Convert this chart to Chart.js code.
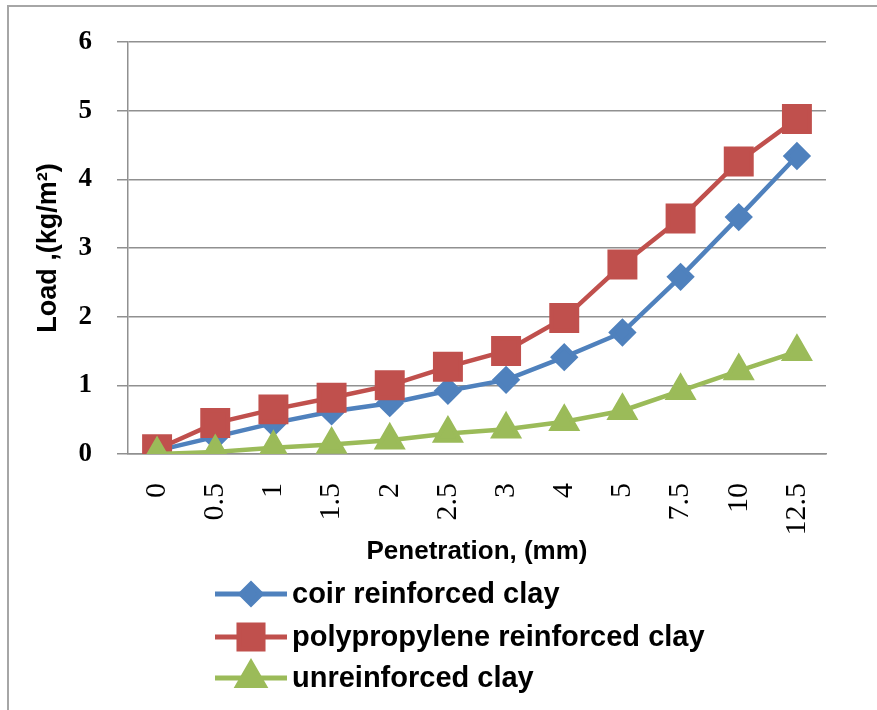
<!DOCTYPE html>
<html>
<head>
<meta charset="utf-8">
<script src="https://cdn.jsdelivr.net/npm/chart.js@4/dist/chart.umd.min.js"></script>
<style>
  html, body { margin: 0; padding: 0; background: #fff; }
  canvas { display: block; }
</style>
</head>
<body>
<canvas id="myChart" width="877" height="710"></canvas>
<script>
(() => {
  'use strict'

  // penetration (mm) categories
  const labels = ['0', '0.5', '1', '1.5', '2', '2.5', '3', '4', '5', '7.5', '10', '12.5']
  // load values
  const coir = [0.05, 0.25, 0.45, 0.62, 0.74, 0.92, 1.08, 1.41, 1.77, 2.58, 3.45, 4.34]
  const polypropylene = [0.07, 0.45, 0.65, 0.82, 1.0, 1.27, 1.5, 1.98, 2.76, 3.43, 4.26, 4.88]
  const unreinforced = [0.0, 0.03, 0.09, 0.14, 0.2, 0.3, 0.36, 0.47, 0.63, 0.92, 1.21, 1.49]
  const yTicks = [0, 1, 2, 3, 4, 5, 6]

  const BLUE = '#4F81BD'
  const RED = '#C0504D'
  const GREEN = '#9BBB59'

  // white page with the thin frame round it
  const framePlugin = {
    id: 'frame',
    beforeDraw(chart) {
      const { ctx, width, height } = chart
      ctx.save()
      ctx.fillStyle = '#fff'
      ctx.fillRect(0, 0, width, height)
      ctx.strokeStyle = '#a6a6a6'
      ctx.lineWidth = 2
      ctx.strokeRect(8, 6, width + 10, height + 10)
      ctx.restore()
    }
  }

  // stacked legend below the axis title
  const stackedLegend = {
    id: 'stackedLegend',
    afterDraw(chart) {
      const { ctx } = chart
      const rows = [594, 637, 678]
      ctx.save()
      chart.data.datasets.forEach((ds, i) => {
        const y = rows[i]
        ctx.strokeStyle = ds.borderColor
        ctx.lineWidth = 5
        ctx.beginPath()
        ctx.moveTo(215, y)
        ctx.lineTo(287, y)
        ctx.stroke()
        ctx.fillStyle = ds.backgroundColor
        ctx.strokeStyle = ds.borderColor
        Chart.helpers.drawPoint(ctx, {
          pointStyle: ds.pointStyle,
          radius: ds.legendRadius,
          rotation: 0,
          borderWidth: 1
        }, 251, y)
        ctx.fillStyle = '#000'
        ctx.font = 'bold 29px "Liberation Sans", Arial, sans-serif'
        ctx.textBaseline = 'middle'
        ctx.textAlign = 'left'
        ctx.fillText(ds.label, 292, y + 1)
      })
      ctx.restore()
    }
  }

  const ctx = document.getElementById('myChart')
  // eslint-disable-next-line no-unused-vars
  const myChart = new Chart(ctx, {
    type: 'line',
    data: {
      labels: labels,
      datasets: [{
        label: 'coir reinforced clay',
        data: coir,
        borderColor: BLUE,
        backgroundColor: BLUE,
        borderWidth: 4.5,
        pointStyle: 'rectRot',
        pointRadius: 11,
        legendRadius: 10,
        lineTension: 0,
        order: 3
      }, {
        label: 'polypropylene reinforced clay',
        data: polypropylene,
        borderColor: RED,
        backgroundColor: RED,
        borderWidth: 4.5,
        pointStyle: 'rect',
        pointRadius: 18,
        legendRadius: 17,
        lineTension: 0,
        order: 2
      }, {
        label: 'unreinforced clay',
        data: unreinforced,
        borderColor: GREEN,
        backgroundColor: GREEN,
        borderWidth: 4.5,
        pointStyle: 'triangle',
        pointRadius: 14,
        legendRadius: 15,
        lineTension: 0,
        order: 1
      }]
    },
    options: {
      responsive: false,
      animation: false,
      events: [],
      layout: {
        padding: { left: 0, top: 42, right: 51, bottom: 136 }
      },
      scales: {
        x: {
          offset: true,
          grid: { display: false, drawTicks: false },
          border: { display: true, color: '#909090', width: 1.5 },
          ticks: {
            autoSkip: false,
            minRotation: 90,
            maxRotation: 90,
            padding: 29,
            color: '#000',
            font: { family: '"Liberation Serif", "Times New Roman", serif', size: 30 }
          },
          title: {
            display: true,
            text: 'Penetration, (mm)',
            color: '#000',
            font: { family: '"Liberation Sans", Arial, sans-serif', size: 26, weight: 'bold' },
            padding: { top: 0, bottom: 7 }
          },
          afterFit(scale) { scale.height = 120 }
        },
        y: {
          min: 0,
          max: 6,
          afterBuildTicks(scale) { scale.ticks = yTicks.map(v => ({ value: v })) },
          grid: { color: '#909090', lineWidth: 1.5, tickLength: 11 },
          border: { display: true, color: '#909090', width: 1.5 },
          ticks: {
            padding: 25,
            color: '#000',
            font: { family: '"Liberation Serif", "Times New Roman", serif', size: 27, weight: 'bold' }
          },
          title: {
            display: true,
            text: 'Load ,(kg/m²)',
            color: '#000',
            font: { family: '"Liberation Sans", Arial, sans-serif', size: 27, weight: 'bold' },
            padding: { top: 32, bottom: 0 }
          },
          afterFit(scale) { scale.width = 128 }
        }
      },
      plugins: {
        legend: { display: false },
        tooltip: { enabled: false }
      }
    },
    plugins: [framePlugin, stackedLegend]
  })
})()
</script>
</body>
</html>
